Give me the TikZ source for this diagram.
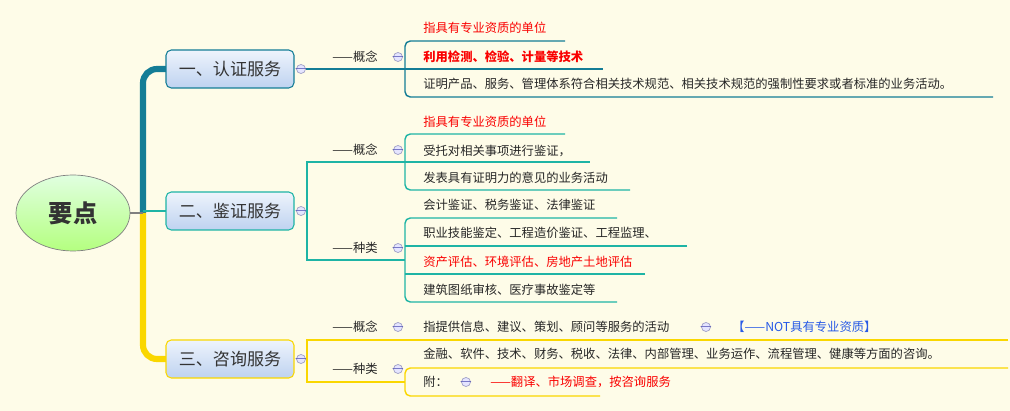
\documentclass[tikz,border=0pt]{standalone}
\usepackage{fontspec}
\setmainfont{Noto Sans CJK SC}
\usetikzlibrary{shapes.geometric}
\definecolor{bg}{RGB}{254,252,232}
\definecolor{cA}{RGB}{20,125,150}
\definecolor{cB}{RGB}{30,180,165}
\definecolor{cC}{RGB}{250,215,0}
\definecolor{red1}{RGB}{250,0,0}
\definecolor{blue1}{RGB}{40,90,230}
\definecolor{boxtop}{RGB}{238,244,252}
\definecolor{boxbot}{RGB}{190,210,240}
\tikzset{
  x=0.02cm,y=-0.02cm,
  branch/.style={draw=#1,rounded corners=3pt,top color=boxtop,bottom color=boxbot,minimum width=128*0.02cm,minimum height=38*0.02cm,font=\fontsize{9.7}{11}\selectfont,text=black!80,line width=0.6pt},
  item/.style={anchor=west,inner sep=0pt,font=\fontsize{7}{8}\selectfont,text=black!85},
  lab/.style={anchor=center,inner sep=0pt,font=\fontsize{7}{8}\selectfont,text=black!85},
  tog/.style={circle,draw=blue!25!gray!60,fill=white!90!blue,inner sep=0pt,minimum size=9*0.02cm,line width=0.4pt,font=\fontsize{5}{5}\selectfont,text=gray,label={[inner sep=0pt,text=blue!40!gray]center:$-$}},
}
\begin{document}
\begin{tikzpicture}
\fill[bg] (0,0) rectangle (1010,411);
\useasboundingbox (0,0) rectangle (1010,411);
% trunks
\draw[cA,line width=3.5pt,rounded corners=8pt] (143,213) -- (143,69) -- (166,69);
\draw[cC,line width=3.5pt,rounded corners=8pt] (143,213) -- (143,359) -- (166,359);
\draw[cB,line width=1.5pt] (143,211) -- (166,211);
\draw[gray,line width=0.8pt] (130,213) -- (143,213);
% root
\node[ellipse,draw=gray,top color=white!60!green!30,bottom color=green!45!lime!50,minimum width=114*0.02cm,minimum height=76*0.02cm,font=\fontsize{13.8}{15}\selectfont\bfseries,text=black!80] (root) at (73,213) {要点};
% branches
\node[branch=cA] (b1) at (230,69) {一、认证服务};
\node[branch=cB] (b2) at (230,211) {二、鉴证服务};
\node[branch=cC] (b3) at (230,359) {三、咨询服务};
\node[tog] (t1) at (301,69) {};
\node[tog] (t2) at (301,211) {};
\node[tog] (t3) at (301,359) {};

% ---------- branch 1
\draw[cA,line width=0.8pt] (t1) -- (405,69);
\node[lab] (g1) at (355,57) {——概念};
\node[tog] (t11) at (398,57) {};
\draw[cA,line width=0.8pt,rounded corners=3pt] (565,41) -- (405,41) -- (405,97) -- (993,97);
\draw[cA,line width=0.8pt] (405,69) -- (603,69);
\node[item,text=red1] (a1) at (423,28) {指具有专业资质的单位};
\node[item,text=red1,font=\fontsize{7}{8}\selectfont\bfseries] (a2) at (423,57) {利用检测、检验、计量等技术};
\node[item] (a3) at (423,84) {证明产品、服务、管理体系符合相关技术规范、相关技术规范的强制性要求或者标准的业务活动。};

% ---------- branch 2
\draw[cB,line width=0.8pt] (t2) -- (307,211);
\draw[cB,line width=0.8pt] (405,162) -- (307,162) -- (307,260) -- (405,260);
\node[lab] (g2) at (355,150) {——概念};
\node[tog] (t21) at (398,150) {};
\draw[cB,line width=0.8pt,rounded corners=3pt] (565,134) -- (405,134) -- (405,190) -- (630,190);
\draw[cB,line width=0.8pt] (405,162) -- (590,162);
\node[item,text=red1] (c1) at (423,122) {指具有专业资质的单位};
\node[item] (c2) at (423,151) {受托对相关事项进行鉴证，};
\node[item] (c3) at (423,178) {发表具有证明力的意见的业务活动};
\node[lab] (g3) at (355,248) {——种类};
\node[tog] (t22) at (398,248) {};
\draw[cB,line width=0.8pt,rounded corners=3pt] (617,218) -- (405,218) -- (405,302) -- (617,302);
\draw[cB,line width=0.8pt,rounded corners=3pt] (687,246) -- (405,246);
\draw[cB,line width=0.8pt,rounded corners=3pt] (645,274) -- (405,274);
\node[item] (d1) at (423,205) {会计鉴证、税务鉴证、法律鉴证};
\node[item] (d2) at (423,233) {职业技能鉴定、工程造价鉴证、工程监理、};
\node[item,text=red1] (d3) at (423,262) {资产评估、环境评估、房地产土地评估};
\node[item] (d4) at (423,290) {建筑图纸审核、医疗事故鉴定等};

% ---------- branch 3
\draw[cC,line width=0.8pt] (t3) -- (307,359);
\draw[cC,line width=0.8pt] (1008,340) -- (307,340) -- (307,382) -- (405,382);
\node[lab] (g4) at (355,327) {——概念};
\node[tog] (t31) at (398,327) {};
\node[item] (e1) at (423,327) {指提供信息、建议、策划、顾问等服务的活动};
\node[tog] (t32) at (706,327) {};
\node[item,text=blue1] (e2) at (732,327) {【——NOT具有专业资质】};
\node[lab] (g5) at (355,369) {——种类};
\node[tog] (t33) at (398,369) {};
\draw[cC,line width=0.8pt,rounded corners=3pt] (1008,368) -- (405,368) -- (405,396) -- (600,396);
\node[item] (f1) at (423,354) {金融、软件、技术、财务、税收、法律、内部管理、业务运作、流程管理、健康等方面的咨询。};
\node[item] (f2) at (423,382) {附：};
\node[tog] (t34) at (466,382) {};
\node[item,text=red1] (f3) at (490,382) {——翻译、市场调查，按咨询服务};
\end{tikzpicture}
\end{document}
